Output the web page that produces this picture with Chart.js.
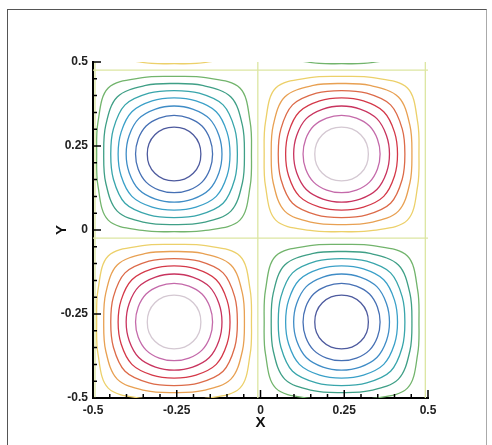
<!DOCTYPE html>
<html lang="en">
<head>
<meta charset="UTF-8">
<title>Vortex contours</title>
<script src="https://cdn.jsdelivr.net/npm/chart.js"></script>
<style>
  body { margin: 0; background: #fff; }
  #wrap { position: relative; width: 492px; height: 445px; }
  #frame { position: absolute; left: 7px; top: 9px; width: 478px; height: 440px;
           border-top: 1px solid #555; border-left: 1px solid #555; border-right: 1px solid #aaa; }
  #chart { position: absolute; left: 0; top: 0; }
</style>
</head>
<body>
<div id="wrap">
  <div id="frame"></div>
  <canvas id="chart" width="492" height="445"></canvas>
</div>
<script>
// tick labels on both axes
const tickValues = [-0.5, -0.25, 0, 0.25, 0.5];

// contour levels (absolute value) and their half-size,
// along the axis, at 22.5 deg and on the diagonal of each vortex
const levels     = [0.875, 0.75, 0.625, 0.5, 0.375, 0.25, 0.125];
const radiusAxis = [0.080, 0.115, 0.143, 0.167, 0.189, 0.210, 0.231];
const radiusMid  = [0.081, 0.116, 0.145, 0.171, 0.196, 0.221, 0.246];
const radiusDiag = [0.081, 0.118, 0.149, 0.178, 0.207, 0.240, 0.278];

// vortex centres (row above the plot only shows its outer contour)
const vortexX = [-0.258, 0.242];
const vortexY = [0.726, 0.226, -0.274];
const vortexSign = [[1, -1], [-1, 1], [1, -1]];

const positiveColors = ['#d4c8d2', '#c46aaa', '#c8335e', '#d43848', '#dc6a48', '#e8a052', '#ecd06a'];
const negativeColors = ['#4d5a9e', '#4670b4', '#3f8cc6', '#3aa0c8', '#38a5ab', '#3f9f86', '#72b46c'];

// near-zero contour lines
const zeroColor = '#dce6a2';
const zeroRows = [0.476, -0.024];
const zeroCols = [-0.494, -0.008, 0.492];

const datasets = [];

zeroRows.forEach(y => datasets.push({
  data: [{x: -0.5, y: y}, {x: 0.5, y: y}],
  borderColor: zeroColor, borderWidth: 1.3, tension: 0
}));
zeroCols.forEach(x => datasets.push({
  data: [{x: x, y: -0.5}, {x: x, y: 0.5}],
  borderColor: zeroColor, borderWidth: 1.3, tension: 0
}));

vortexY.forEach((cy, j) => {
  vortexX.forEach((cx, i) => {
    const colors = vortexSign[j][i] > 0 ? positiveColors : negativeColors;
    levels.forEach((lv, k) => {
      const ring = [];
      for (let a = 0; a < 16; a++) {
        const r = [radiusAxis, radiusMid, radiusDiag, radiusMid][a % 4][k];
        const t = a * Math.PI / 8;
        ring.push({x: cx + r * Math.cos(t), y: cy + r * Math.sin(t)});
      }
      // wrap around so the seam gets proper tangents, then hide the extra bits
      const pts = [ring[15], ...ring, ring[0], ring[1]];
      datasets.push({
        label: String(vortexSign[j][i] * lv),
        data: pts,
        borderColor: colors[k],
        borderWidth: 1.3,
        tension: 0.35,
        segment: {
          borderColor: c => (c.p0DataIndex === 0 || c.p0DataIndex === pts.length - 2) ? 'rgba(0,0,0,0)' : undefined
        }
      });
    });
  });
});

const innerTicks = {
  id: 'innerTicks',
  afterDatasetsDraw(chart) {
    const {ctx, scales: {x, y}, chartArea: a} = chart;
    ctx.save();
    ctx.strokeStyle = '#000';
    ctx.lineWidth = 1.5;
    for (let i = 0; i <= 20; i++) {
      const v = -0.5 + i * 0.05;
      const len = i % 5 === 0 ? 8 : 4;
      const px = x.getPixelForValue(v), py = y.getPixelForValue(v);
      ctx.beginPath();
      ctx.moveTo(px, a.bottom); ctx.lineTo(px, a.bottom - len);
      ctx.moveTo(a.left, py); ctx.lineTo(a.left + len, py);
      ctx.stroke();
    }
    ctx.restore();
  }
};

const tickFont = {family: 'Liberation Sans, Arial, sans-serif', size: 12, weight: 'bold'};
const titleFont = {family: 'Liberation Sans, Arial, sans-serif', size: 15, weight: 'bold'};

new Chart(document.getElementById('chart'), {
  type: 'scatter',
  data: {datasets: datasets},
  options: {
    responsive: false,
    animation: false,
    events: [],
    elements: {point: {radius: 0}, line: {capBezierPoints: false}},
    datasets: {scatter: {showLine: true}},
    layout: {padding: {left: 0, top: 62, right: 64, bottom: 0}},
    plugins: {legend: {display: false}, tooltip: {enabled: false}},
    scales: {
      x: {
        type: 'linear', min: -0.5, max: 0.5,
        grid: {display: false, drawTicks: false},
        border: {display: true, color: '#000', width: 2},
        afterBuildTicks: s => { s.ticks = tickValues.map(v => ({value: v})); },
        afterFit: s => { s.height = 47; },
        ticks: {padding: 5, color: '#222', font: tickFont, callback: v => String(v)},
        title: {display: true, text: 'X', color: '#111', font: titleFont, padding: {top: 0, bottom: 13}}
      },
      y: {
        type: 'linear', min: -0.5, max: 0.5,
        grid: {display: false, drawTicks: false},
        border: {display: true, color: '#000', width: 2},
        afterBuildTicks: s => { s.ticks = tickValues.map(v => ({value: v})); },
        afterFit: s => { s.width = 93; },
        ticks: {padding: 5, color: '#222', font: tickFont, callback: v => String(v)},
        title: {display: true, text: 'Y', color: '#111', font: titleFont, padding: {top: 53, bottom: 0}}
      }
    }
  },
  plugins: [innerTicks]
});
</script>
</body>
</html>
